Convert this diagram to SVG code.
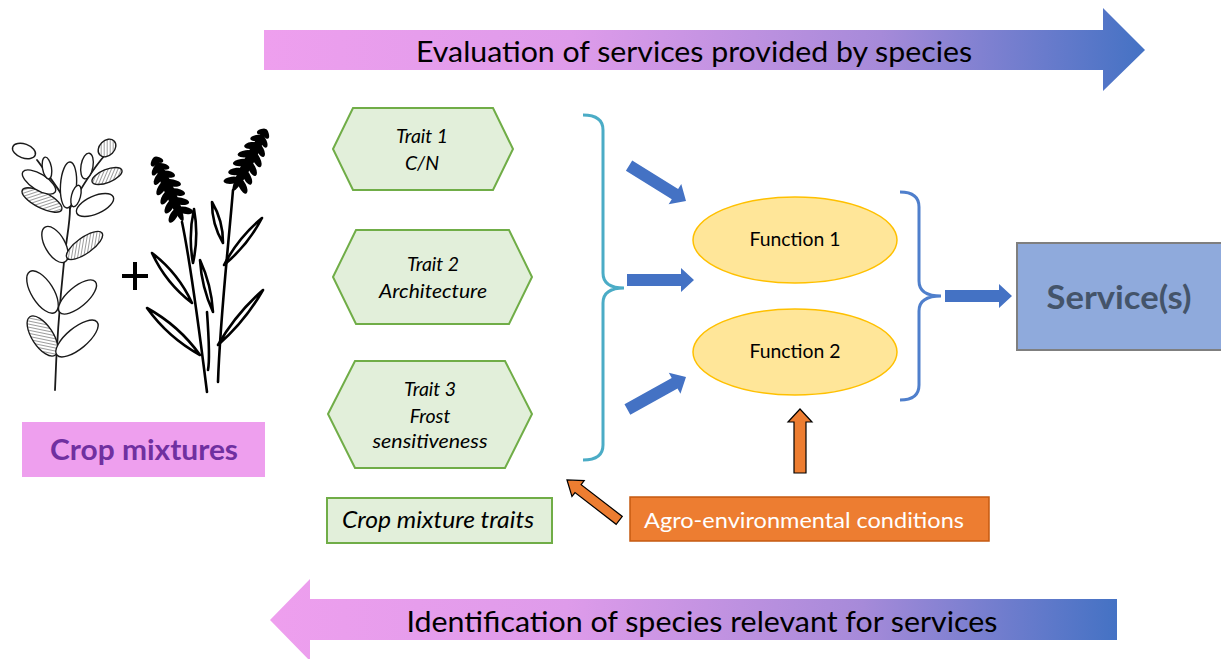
<svg xmlns="http://www.w3.org/2000/svg" xmlns:xlink="http://www.w3.org/1999/xlink" width="1221" height="659" viewBox="0 0 1221 659">
<style>
.f{font-family:Lato,"Open Sans","Liberation Sans",sans-serif}
.trait{fill:#E2EFDA;stroke:#70AD47;stroke-width:2}
.tt{font-family:Lato,"Open Sans","Liberation Sans",sans-serif;font-style:italic;font-size:19.5px;fill:#000;text-anchor:middle}
.fn{fill:#FFE699;stroke:#FFC000;stroke-width:1.5}
.fnt{font-family:Lato,"Open Sans","Liberation Sans",sans-serif;font-size:19px;fill:#000;text-anchor:middle}
.barrow{fill:#4472C4}
.oarrow{fill:#ED7D31;stroke:#000;stroke-width:1.2}
.leaf{fill:#fff;stroke:#1a1a1a;stroke-width:1.4}
.hleaf{fill:url(#hatch);stroke:#1a1a1a;stroke-width:1.4}
.wleaf{fill:#fff;stroke:#000;stroke-width:2.6;stroke-linejoin:round}
.stem{fill:none;stroke:#000;stroke-width:2.6;stroke-linecap:round}
.lstem{fill:none;stroke:#1a1a1a;stroke-width:1.8;stroke-linecap:round}
</style>
<defs>
<linearGradient id="grad" x1="0" y1="0" x2="1" y2="0">
<stop offset="0" stop-color="#EE9FEE"/>
<stop offset="0.35" stop-color="#DE9BEA"/>
<stop offset="0.7" stop-color="#A68AD9"/>
<stop offset="1" stop-color="#4472C4"/>
</linearGradient>
<pattern id="hatch" width="3" height="3" patternUnits="userSpaceOnUse" patternTransform="rotate(45)">
<rect width="3" height="3" fill="#fff"/>
<line x1="0" y1="0" x2="0" y2="3" stroke="#222" stroke-width="0.9"/>
</pattern>
<polygon id="barrow" points="0,0 -13,-12 -13,-6 -67,-6 -67,6 -13,6 -13,12"/>
<g id="ear">
<ellipse cx="0" cy="-34" rx="5" ry="34"/>
<ellipse cx="-6" cy="-9" rx="8.5" ry="3.6" transform="rotate(-35 -6 -9)"/>
<ellipse cx="6" cy="-9" rx="8.5" ry="3.6" transform="rotate(35 6 -9)"/>
<ellipse cx="-6" cy="-19" rx="8.5" ry="3.6" transform="rotate(-35 -6 -19)"/>
<ellipse cx="6" cy="-19" rx="8.5" ry="3.6" transform="rotate(35 6 -19)"/>
<ellipse cx="-6" cy="-29" rx="8.5" ry="3.6" transform="rotate(-35 -6 -29)"/>
<ellipse cx="6" cy="-29" rx="8.5" ry="3.6" transform="rotate(35 6 -29)"/>
<ellipse cx="-6" cy="-39" rx="8.5" ry="3.6" transform="rotate(-35 -6 -39)"/>
<ellipse cx="6" cy="-39" rx="8.5" ry="3.6" transform="rotate(35 6 -39)"/>
<ellipse cx="-5" cy="-49" rx="7.5" ry="3.4" transform="rotate(-35 -5 -49)"/>
<ellipse cx="5" cy="-49" rx="7.5" ry="3.4" transform="rotate(35 5 -49)"/>
<ellipse cx="-4" cy="-58" rx="6.5" ry="3" transform="rotate(-38 -4 -58)"/>
<ellipse cx="4" cy="-58" rx="6.5" ry="3" transform="rotate(38 4 -58)"/>
<ellipse cx="-2.5" cy="-66" rx="5" ry="2.6" transform="rotate(-45 -2.5 -66)"/>
<ellipse cx="2.5" cy="-66" rx="5" ry="2.6" transform="rotate(45 2.5 -66)"/>
</g>
</defs>
<rect width="1221" height="659" fill="#fff"/>

<g id="top-arrow">
<polygon points="264,30 1103,30 1103,8 1145,50 1103,91 1103,70 264,70" fill="url(#grad)"/>
<text class="f" x="694" y="62" font-size="28.5" text-anchor="middle" textLength="556" lengthAdjust="spacingAndGlyphs" fill="#000">Evaluation of services provided by species</text>
</g>

<g id="bottom-arrow">
<polygon points="270,620 310,579 310,599 1117,599 1117,640 310,640 310,661" fill="url(#grad)"/>
<text class="f" x="702" y="632" font-size="28.5" text-anchor="middle" textLength="591" lengthAdjust="spacingAndGlyphs" fill="#000">Identification of species relevant for services</text>
</g>

<g id="legume">
<path class="lstem" d="M55,390 C56,360 60,300 64,262 C66,240 70,225 70,208"/>
<path class="lstem" d="M70,208 C60,190 48,175 37,160"/>
<path class="lstem" d="M70,208 C80,190 92,170 105,155 L115,147"/>
<path class="lstem" d="M70,208 C70,190 70,178 70,165"/>
<ellipse class="hleaf" cx="42.5" cy="336" rx="23" ry="10.5" transform="rotate(-123.3 42.5 336)"/>
<ellipse class="leaf" cx="77" cy="338.5" rx="26" ry="10.5" transform="rotate(-39.5 77 338.5)"/>
<ellipse class="leaf" cx="42.5" cy="292" rx="24" ry="11" transform="rotate(-122 42.5 292)"/>
<ellipse class="leaf" cx="77.5" cy="297" rx="23.5" ry="10" transform="rotate(-40.6 77.5 297)"/>
<ellipse class="leaf" cx="55" cy="244.5" rx="20" ry="10" transform="rotate(-119.7 55 244.5)"/>
<ellipse class="hleaf" cx="84.5" cy="245.5" rx="21.5" ry="8" transform="rotate(-35.5 84.5 245.5)"/>
<ellipse class="hleaf" cx="42" cy="200" rx="22" ry="8" transform="rotate(-153.4 42 200)"/>
<ellipse class="leaf" cx="95" cy="205" rx="20" ry="9" transform="rotate(-24 95 205)"/>
<ellipse class="leaf" cx="68.5" cy="185" rx="23" ry="8" transform="rotate(-86 68.5 185)"/>
<ellipse class="leaf" cx="76" cy="196" rx="11" ry="4.5" transform="rotate(-75 76 196)"/>
<ellipse class="leaf" cx="39" cy="182" rx="19" ry="8" transform="rotate(-148 39 182)"/>
<ellipse class="leaf" cx="24" cy="151" rx="12" ry="7" transform="rotate(-160 24 151)"/>
<ellipse class="leaf" cx="47" cy="168" rx="11" ry="4.5" transform="rotate(-100 47 168)"/>
<ellipse class="leaf" cx="87" cy="166" rx="13" ry="6" transform="rotate(-80 87 166)"/>
<ellipse class="hleaf" cx="107" cy="148" rx="10" ry="7.5" transform="rotate(-45 107 148)"/>
<ellipse class="hleaf" cx="107" cy="176" rx="16" ry="6.5" transform="rotate(-22 107 176)"/>
</g>

<g id="plus">
<path d="M122,276 L148,276 M135,262 L135,290" stroke="#000" stroke-width="4" fill="none"/>
</g>

<g id="wheat">
<path class="stem" d="M182,222 C190,260 198,320 207,392"/>
<path class="stem" d="M233,190 C228,250 220,320 218,382"/>
<path class="stem" d="M207,312 C209,340 210,360 208,370"/>
<path class="wleaf" d="M194,209 Q199,236 193,263 Q188,236 194,209Z"/>
<path class="wleaf" d="M212,202 Q223.3,221 223,243 Q211.7,224 212,202Z"/>
<path class="wleaf" d="M152,253 Q178.2,273 192,303 Q165.8,283 152,253Z"/>
<path class="wleaf" d="M147,308 Q178.8,325.5 200,355 Q168.2,337.5 147,308Z"/>
<path class="wleaf" d="M200,260 Q211.4,284.8 213,312 Q201.6,287.2 200,260Z"/>
<path class="wleaf" d="M224,265 Q247.7,245.3 262,218 Q238.3,237.7 224,265Z"/>
<path class="wleaf" d="M218,345 Q245.1,321.3 263,290 Q235.9,313.7 218,345Z"/>
<use xlink:href="#ear" href="#ear" transform="translate(183,221) rotate(-24)"/>
<use xlink:href="#ear" href="#ear" transform="translate(233,191) rotate(28)"/>
</g>

<g id="crop-mixtures">
<rect x="22" y="422" width="243" height="55" fill="#EE9FEE"/>
<text class="f" x="144" y="460" font-size="29" font-weight="bold" text-anchor="middle" textLength="188" lengthAdjust="spacingAndGlyphs" fill="#7030A0">Crop mixtures</text>
</g>

<g id="trait1">
<polygon class="trait" points="333,149 353,108 493,108 513,149 493,190 353,190"/>
<text class="tt" x="422" y="143">Trait 1</text>
<text class="tt" x="422" y="170">C/N</text>
</g>
<g id="trait2">
<polygon class="trait" points="333,277 356,230 509,230 532,277 509,324 356,324"/>
<text class="tt" x="433" y="271">Trait 2</text>
<text class="tt" x="433" y="298" textLength="108" lengthAdjust="spacingAndGlyphs">Architecture</text>
</g>
<g id="trait3">
<polygon class="trait" points="328,414 355,361 505,361 532,414 505,468 355,468"/>
<text class="tt" x="430" y="396">Trait 3</text>
<text class="tt" x="430" y="423">Frost</text>
<text class="tt" x="430" y="448" textLength="115" lengthAdjust="spacingAndGlyphs">sensitiveness</text>
</g>

<g id="crop-mixture-traits">
<rect x="327" y="498" width="225" height="45" fill="#E2EFDA" stroke="#70AD47" stroke-width="2"/>
<text class="tt" x="438" y="528" style="font-size:23px" textLength="192" lengthAdjust="spacingAndGlyphs">Crop mixture traits</text>
</g>

<g id="function1">
<ellipse class="fn" cx="795" cy="240" rx="102" ry="43"/>
<text class="fnt" x="795" y="246" textLength="91" lengthAdjust="spacingAndGlyphs">Function 1</text>
</g>
<g id="function2">
<ellipse class="fn" cx="795" cy="352" rx="102" ry="43"/>
<text class="fnt" x="795" y="358" textLength="91" lengthAdjust="spacingAndGlyphs">Function 2</text>
</g>

<g id="services">
<rect x="1017" y="243" width="215" height="107" fill="#8FAADC" stroke="#7F7F7F" stroke-width="2"/>
<text class="f" x="1119" y="309" font-size="32" font-weight="bold" text-anchor="middle" textLength="145" lengthAdjust="spacingAndGlyphs" fill="#44546A">Service(s)</text>
</g>

<g id="agro-conditions">
<rect x="630" y="497" width="359" height="44" fill="#ED7D31" stroke="#C55A11" stroke-width="1.5"/>
<text class="f" x="804" y="528" font-size="22" text-anchor="middle" textLength="320" lengthAdjust="spacingAndGlyphs" fill="#fff">Agro-environmental conditions</text>
</g>

<g id="connectors">
<path d="M583,115 Q603,115 603,130 L603,273 Q603,288 624,288 Q603,288 603,303 L603,445 Q603,460 583,460" fill="none" stroke="#4BACC6" stroke-width="3"/>
<path d="M900,192 Q919,192 919,207 L919,281 Q919,296 941,296 Q919,296 919,311 L919,385 Q919,400 900,400" fill="none" stroke="#4F7FCC" stroke-width="3"/>
<use xlink:href="#barrow" href="#barrow" class="barrow" transform="translate(686,201) rotate(31.8)"/>
<use xlink:href="#barrow" href="#barrow" class="barrow" transform="translate(694,280)"/>
<use xlink:href="#barrow" href="#barrow" class="barrow" transform="translate(686,377) rotate(-29)"/>
<use xlink:href="#barrow" href="#barrow" class="barrow" transform="translate(1012,296)"/>
<polygon class="oarrow" points="0,0 -14,-10 -14,-5 -66,-5 -66,5 -14,5 -14,10" transform="translate(567,480) rotate(-142.3)"/>
<polygon class="oarrow" points="800,409 812,422 806,422 806,473 794,473 794,422 788,422"/>
</g>
</svg>
